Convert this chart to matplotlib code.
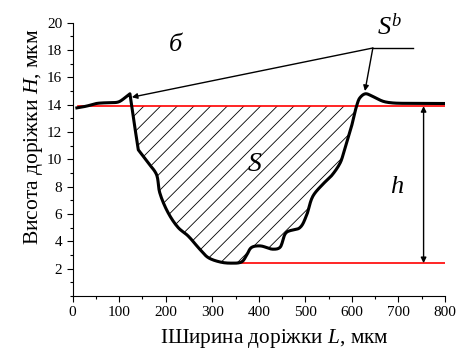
import matplotlib
matplotlib.use("Agg")
import matplotlib.pyplot as plt
from matplotlib.ticker import MultipleLocator
import numpy as np

plt.rcParams['font.family'] = ['Liberation Serif', 'DejaVu Serif']
plt.rcParams['mathtext.fontset'] = 'custom'
plt.rcParams['mathtext.rm'] = 'Liberation Serif'
plt.rcParams['mathtext.it'] = 'Liberation Serif:italic'
plt.rcParams['hatch.linewidth'] = 0.6

# Track profile: width L (um) vs height H (um)
profile_L = [9, 30, 51, 75, 98, 112, 123, 132, 141, 162, 180, 187, 205, 227,
             248, 273, 291, 316, 338, 363, 373, 384, 403, 430, 445, 459, 488, 502,
             516, 538, 556, 575, 584, 599, 610, 617, 629, 645, 667, 688, 740, 800]
profile_H = [13.77, 13.9, 14.09, 14.15, 14.2, 14.5, 14.8, 12.7, 10.7, 9.75, 8.9,
             7.57, 6.1, 5.0, 4.4, 3.43, 2.82, 2.5, 2.41, 2.5, 2.94, 3.55, 3.67, 3.43,
             3.55, 4.65, 5.0, 5.86, 7.3, 8.2, 8.8, 9.76, 10.7, 12.4, 13.9, 14.5, 14.8,
             14.6, 14.25, 14.13, 14.1, 14.09]
# indices where the profile has sharp corners
corner_idx = [6, 8]

top_level = 13.9      # initial surface level
bottom_level = 2.41   # track depth level
top_line_L = [12, 800]
bottom_line_L = [344, 800]


def catmull_rom(xs, ys, n=12):
    """Centripetal Catmull-Rom curve through the given points."""
    P = np.column_stack([xs, ys]).astype(float)
    if len(P) < 3:
        return P[:, 0], P[:, 1]
    P = np.vstack([P[0], P, P[-1]])
    out = []
    for i in range(1, len(P) - 2):
        p0, p1, p2, p3 = P[i - 1], P[i], P[i + 1], P[i + 2]
        t0 = 0.0
        t1 = t0 + max(np.linalg.norm(p1 - p0), 1e-6) ** 0.5
        t2 = t1 + max(np.linalg.norm(p2 - p1), 1e-6) ** 0.5
        t3 = t2 + max(np.linalg.norm(p3 - p2), 1e-6) ** 0.5
        for t in np.linspace(t1, t2, n, endpoint=False):
            a1 = (t1 - t) / (t1 - t0) * p0 + (t - t0) / (t1 - t0) * p1
            a2 = (t2 - t) / (t2 - t1) * p1 + (t - t1) / (t2 - t1) * p2
            a3 = (t3 - t) / (t3 - t2) * p2 + (t - t2) / (t3 - t2) * p3
            b1 = (t2 - t) / (t2 - t0) * a1 + (t - t0) / (t2 - t0) * a2
            b2 = (t3 - t) / (t3 - t1) * a2 + (t - t1) / (t3 - t1) * a3
            out.append((t2 - t) / (t2 - t1) * b1 + (t - t1) / (t2 - t1) * b2)
    out.append(P[-2])
    out = np.array(out)
    return out[:, 0], out[:, 1]


def smooth_profile(xs, ys, corners, sx):
    xs = np.asarray(xs, float) * sx
    ys = np.asarray(ys, float)
    bounds = [0] + list(corners) + [len(xs) - 1]
    px, py = [], []
    for a, b in zip(bounds[:-1], bounds[1:]):
        x, y = catmull_rom(xs[a:b + 1], ys[a:b + 1])
        if px:
            x, y = x[1:], y[1:]
        px.extend(x)
        py.extend(y)
    return np.array(px) / sx, np.array(py)


fig = plt.figure(figsize=(4.58, 3.55), dpi=100)
ax = fig.add_axes([0.1587, 0.166, 0.8129, 0.770])

# scale L so that the smoothing treats both axes comparably in pixels
cx, cy = smooth_profile(profile_L, profile_H, corner_idx, 0.466 / 13.7)

# hatched cross-section area S
inside = (cy <= top_level + 1e-9) & (cx > 120) & (cx < 615)
Lf, Hf = cx[inside], cy[inside]
ax.fill_between(Lf, Hf, top_level, facecolor='none', edgecolor='black',
                hatch='//', linewidth=0.0, zorder=1)
ax.plot(Lf, Hf, color='black', lw=0.6, zorder=1)

ax.plot(top_line_L, [top_level, top_level], color='red', lw=1.2, zorder=2)
ax.plot(bottom_line_L, [bottom_level, bottom_level], color='red', lw=1.2, zorder=2)
ax.plot(cx, cy, color='black', lw=2.2, zorder=3, solid_joinstyle='round')

# leader lines for S^b
ax.plot([645, 732], [18.15, 18.15], color='black', lw=1.0)
ax.annotate('', xy=(127, 14.55), xytext=(645, 18.15),
            arrowprops=dict(arrowstyle='-|>', color='black', lw=1.0,
                            mutation_scale=8, shrinkA=0, shrinkB=0))
ax.annotate('', xy=(628, 15.0), xytext=(645, 18.15),
            arrowprops=dict(arrowstyle='-|>', color='black', lw=1.0,
                            mutation_scale=8, shrinkA=0, shrinkB=0))
# depth h
ax.annotate('', xy=(754, bottom_level), xytext=(754, top_level),
            arrowprops=dict(arrowstyle='<|-|>', color='black', lw=1.0,
                            mutation_scale=8, shrinkA=0, shrinkB=0))

ax.text(220, 18.4, 'б', fontsize=19, style='italic', ha='center', va='center')
ax.text(391, 9.6, '$S$', fontsize=20, ha='center', va='center')
ax.text(698, 8.0, '$h$', fontsize=19, ha='center', va='center')
ax.text(681, 19.7, '$S^b$', fontsize=19, ha='center', va='center')

ax.set_xlim(0, 800)
ax.set_ylim(0, 20)
ax.xaxis.set_major_locator(MultipleLocator(100))
ax.xaxis.set_minor_locator(MultipleLocator(50))
ax.yaxis.set_minor_locator(MultipleLocator(1))
ax.set_yticks(range(2, 21, 2))
for s in ['top', 'right']:
    ax.spines[s].set_visible(False)
ax.tick_params(which='major', length=4, width=0.8, labelsize=11, direction='out')
ax.tick_params(which='minor', length=2.5, width=0.8, direction='out')

ax.set_xlabel('ІШирина доріжки $L$, мкм', fontsize=15.3)
ax.set_ylabel('Висота доріжки $H$, мкм', fontsize=15.5)
ax.xaxis.set_label_coords(0.542, -0.154)
ax.yaxis.set_label_coords(-0.106, 0.582)
ax.xaxis.label.set_va('center')
ax.yaxis.label.set_va('center')

fig.savefig('out.png', dpi=100)
